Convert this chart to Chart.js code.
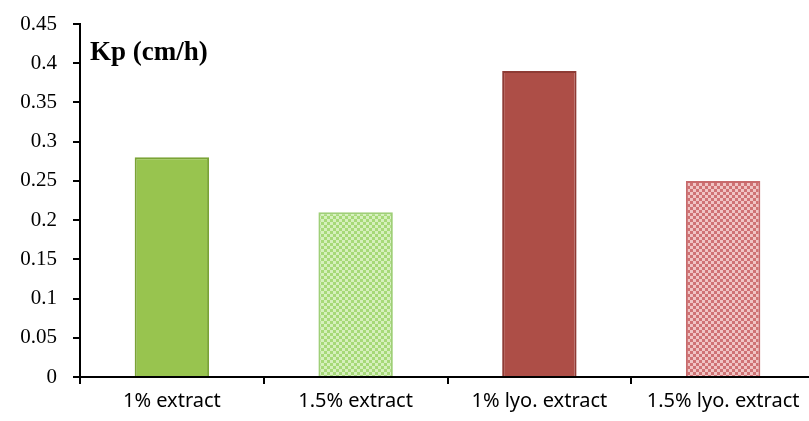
<!DOCTYPE html>
<html>
<head>
<meta charset="utf-8">
<script src="https://cdn.jsdelivr.net/npm/chart.js@4/dist/chart.umd.min.js"></script>
<style>
    body { margin: 0; overflow: hidden; background: #fff; }
    #wrap { width: 815px; height: 421px; }
</style>
</head>
<body>
<div id="wrap"><canvas id="kpChart"></canvas></div>
<script>
const categories = ['1% extract', '1.5% extract', '1% lyo. extract', '1.5% lyo. extract'];
const kpValues = [0.28, 0.21, 0.39, 0.25];
const yTickLabels = ['0', '0.05', '0.1', '0.15', '0.2', '0.25', '0.3', '0.35', '0.4', '0.45'];
const yTitle = 'Kp (cm/h)';

// small checker pattern for the "textured" bars
function makePattern(base, light) {
    const c = document.createElement('canvas');
    c.width = 6;
    c.height = 6;
    const g = c.getContext('2d');
    g.fillStyle = base;
    g.fillRect(0, 0, 6, 6);
    g.fillStyle = light;
    g.fillRect(0, 0, 3, 3);
    g.fillRect(3, 3, 3, 3);
    return g.createPattern(c, 'repeat');
}

const fills = [
    '#98c44f',
    makePattern('#a6d978', '#d6f0bd'),
    '#ad4e47',
    makePattern('#cf7274', '#f0c4c4')
];
const borders = ['#7aa336', '#9fcf78', '#8e3b35', '#c86a6c'];

// title text drawn inside the plot, top-left
const innerTitle = {
    id: 'innerTitle',
    afterDraw(chart) {
        const ctx = chart.ctx;
        const area = chart.chartArea;
        ctx.save();
        ctx.font = 'bold 27px "Liberation Serif"';
        ctx.fillStyle = '#000';
        ctx.textBaseline = 'middle';
        ctx.fillText(yTitle, area.left + 10, area.top + 29);
        ctx.restore();
    }
};

const ctx = document.getElementById('kpChart').getContext('2d');
new Chart(ctx, {
    type: 'bar',
    data: {
        labels: categories,
        datasets: [{
            data: kpValues,
            backgroundColor: fills,
            borderColor: borders,
            borderWidth: 2,
            categoryPercentage: 1,
            barPercentage: 0.405
        }]
    },
    options: {
        responsive: true,
        maintainAspectRatio: false,
        animation: false,
        layout: { padding: { top: 24, right: 0, left: 0, bottom: 0 } },
        plugins: {
            legend: { display: false },
            tooltip: { enabled: false }
        },
        scales: {
            x: {
                grid: { display: true, drawOnChartArea: false, drawTicks: true, tickLength: 7, color: '#000', lineWidth: 2, offset: true },
                border: { display: true, color: '#000', width: 2 },
                ticks: {
                    color: '#000',
                    font: { family: '"Noto Sans"', size: 20 },
                    padding: 5,
                    maxRotation: 0
                },
                afterFit: scale => { scale.height = 44; }
            },
            y: {
                min: 0,
                max: 0.45,
                grid: { display: true, drawOnChartArea: false, drawTicks: true, tickLength: 7, color: '#000', lineWidth: 2 },
                border: { display: true, color: '#000', width: 2 },
                ticks: {
                    stepSize: 0.05,
                    color: '#000',
                    font: { family: '"Liberation Serif"', size: 21, lineHeight: 0.6 },
                    padding: 16,
                    callback: (value, index) => yTickLabels[index]
                },
                afterFit: scale => { scale.width = 80; }
            }
        }
    },
    plugins: [innerTitle]
});
</script>
</body>
</html>
